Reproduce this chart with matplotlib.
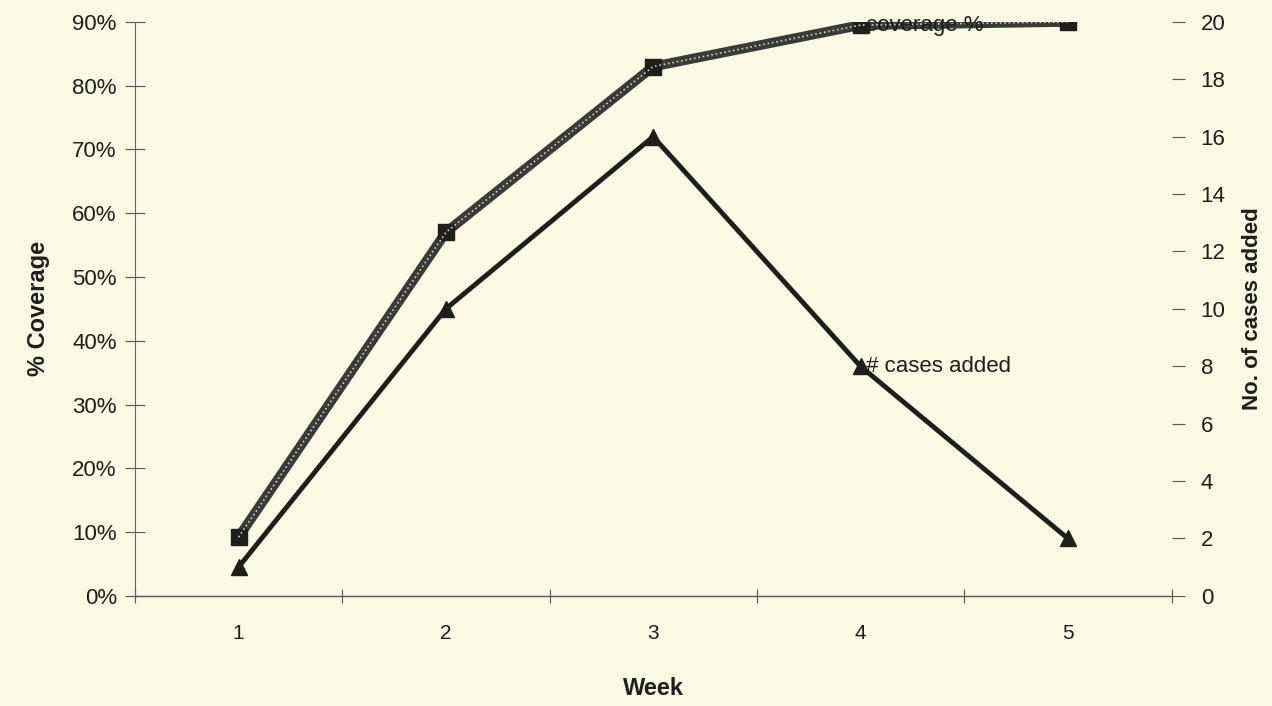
#!/usr/bin/env python3

import matplotlib
matplotlib.use("Agg")
import matplotlib.pyplot as plt
from matplotlib.ticker import FixedLocator, FuncFormatter

weeks = [1, 2, 3, 4, 5]
coverage_pct = [9.2, 57, 83, 89.5, 90]
cases_added = [1, 10, 16, 8, 2]

BG = "#FBF8E3"
INK = "#1E1E1A"

plt.rcParams["font.family"] = ["Liberation Sans", "DejaVu Sans"]

fig = plt.figure(figsize=(12.72, 7.06), dpi=100, facecolor=BG)
ax = fig.add_axes([0.106, 0.156, 0.815, 0.813], facecolor=BG)
ax2 = ax.twinx()
ax2.set_facecolor("none")

# coverage line, textured grey look
ax.plot(weeks, coverage_pct, "-", color="#3A3A36", lw=7, solid_capstyle="round",
        marker="s", ms=12, mfc=INK, mec=INK, zorder=3)
ax.plot(weeks, coverage_pct, ":", color="#CFCFC8", lw=1.2, zorder=4)

ax2.plot(weeks, cases_added, "-", color=INK, lw=3.5,
         marker="^", ms=12, mfc=INK, mec=INK, zorder=3)

ax.set_xlim(0.5, 5.5)
ax.set_ylim(0, 90)
ax2.set_ylim(0, 20)

ax.xaxis.set_major_locator(FixedLocator(weeks))
ax.xaxis.set_minor_locator(FixedLocator([0.5, 1.5, 2.5, 3.5, 4.5, 5.5]))
ax.tick_params(axis="x", which="major", length=0, pad=20, labelsize=15, colors=INK)
ax.tick_params(axis="x", which="minor", length=10, direction="inout", width=0.8, color="#555")

ax.set_yticks(range(0, 91, 10))
ax.yaxis.set_major_formatter(FuncFormatter(lambda v, p: f"{int(v)}%"))
ax.tick_params(axis="y", length=14, direction="inout", width=0.8, color="#555",
               labelsize=16, pad=6, labelcolor=INK)

ax2.set_yticks(range(0, 21, 2))
ax2.tick_params(axis="y", length=9, direction="out", width=0.8, color="#555",
                labelsize=16, pad=12, labelcolor=INK)

for a in (ax, ax2):
    a.spines["top"].set_visible(False)
    a.spines["right"].set_visible(False)
ax2.spines["left"].set_visible(False)
ax2.spines["bottom"].set_visible(False)
ax.spines["left"].set_color("#666")
ax.spines["bottom"].set_color("#555")
ax.spines["left"].set_linewidth(0.8)
ax.spines["bottom"].set_linewidth(1.0)

ax.set_xlabel("Week", fontsize=17, fontweight="bold", color=INK, labelpad=25)
ax.set_ylabel("% Coverage", fontsize=17, fontweight="bold", color=INK, labelpad=16)
ax2.set_ylabel("No. of cases added", fontsize=16, fontweight="bold", color=INK, labelpad=12)

# in-chart series labels
ax.annotate("coverage %", (weeks[3], coverage_pct[3]), xytext=(4, 0),
            textcoords="offset points", va="center", ha="left",
            fontsize=16, color=INK, zorder=5)
ax2.annotate("# cases added", (weeks[3], cases_added[3]), xytext=(4, 0),
             textcoords="offset points", va="center", ha="left",
             fontsize=16, color=INK, zorder=5)

fig.savefig("out.png", dpi=100, facecolor=BG)
